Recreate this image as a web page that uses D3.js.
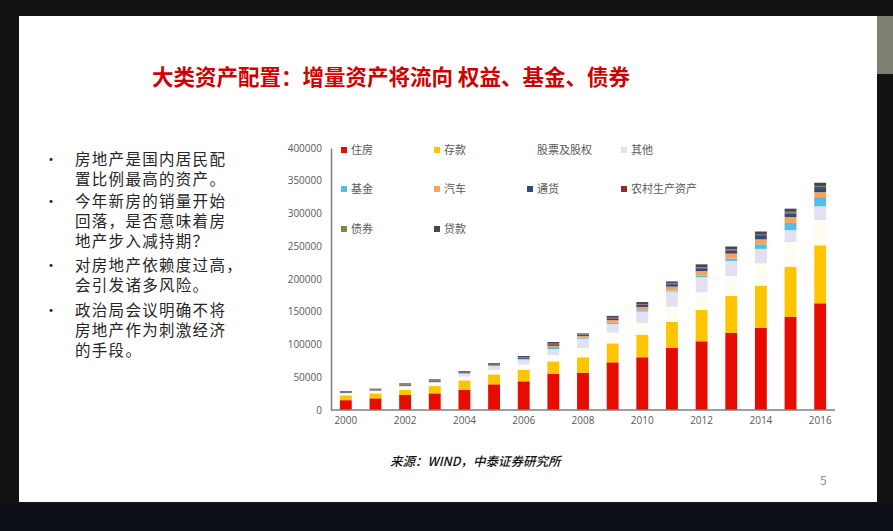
<!DOCTYPE html>
<html>
<head>
<meta charset="utf-8">
<script src="https://cdn.jsdelivr.net/npm/d3@7"></script>
<style>
  body { margin: 0; background: #111; }
  svg { display: block; font-family: "Noto Sans CJK SC", "Noto Sans", sans-serif; }
</style>
</head>
<body>
<script>
// data (stacked, bottom to top)
const years = ['2000','2001','2002','2003','2004','2005','2006','2007','2008','2009','2010','2011','2012','2013','2014','2015','2016'];
const housing  = [15000,17800,22900,25400,31000,39200,43800,55000,57000,72800,80500,95000,104900,117600,125200,142500,162900];
const deposits = [7400,7600,8100,11200,14300,15200,17800,19300,23500,29000,34500,39800,47800,56400,64600,76300,88600];
const stocks   = [3000,3300,4500,4600,5500,6600,7800,9600,14200,16200,18000,23000,27000,30600,34200,37700,38500];
const other    = [500,600,1000,1200,4500,6000,7000,9000,14200,13200,17300,23000,23000,23000,22000,18000,21000];
const funds    = [100,150,200,250,300,400,800,3500,1500,2000,2000,1500,2500,3600,7000,11000,14000];
const cars     = [300,350,400,500,600,700,900,1500,2500,4000,5000,6000,7000,7600,7600,9000,7600];
const cash     = [1000,1100,1300,1400,1400,1600,1700,2000,1500,2500,3000,3800,4200,4600,5000,5600,6200];
const rural    = [500,500,600,600,600,700,800,900,500,800,900,1000,1200,1300,1400,1600,1800];
const bonds    = [200,200,300,250,200,200,300,400,300,300,400,400,500,600,700,900,1200];
const loans    = [1000,1000,1400,1400,1100,1200,1500,2600,1700,2900,3200,2800,4300,4300,4800,4800,5200];

const seriesNames = ['住房','存款','股票及股权','其他','基金','汽车','通货','农村生产资产','债券','贷款'];
const seriesValues = [housing, deposits, stocks, other, funds, cars, cash, rural, bonds, loans];
const yTicks = [0,50000,100000,150000,200000,250000,300000,350000,400000];

const colors = ['#e60d00','#ffc400','#fffdf2','#e3e0f1','#55bde3','#f7a35c','#2f4b7c','#8e2b2b','#7b8b3d','#4a4459'];

const title = '大类资产配置：增量资产将流向 权益、基金、债券';
const bullets = [
  ['房地产是国内居民配', '置比例最高的资产。'],
  ['今年新房的销量开始', '回落，是否意味着房', '地产步入减持期？'],
  ['对房地产依赖度过高，', '会引发诸多风险。'],
  ['政治局会议明确不将', '房地产作为刺激经济', '的手段。']
];

const W = 893, H = 531;
const svg = d3.select('body').append('svg').attr('width', W).attr('height', H);

// screen / slide frame
svg.append('rect').attr('width', W).attr('height', H).attr('fill', '#121212');
svg.append('rect').attr('x', 0).attr('y', 504).attr('width', W).attr('height', 27).attr('fill', '#0d0f16');
svg.append('rect').attr('x', 19).attr('y', 16).attr('width', 858).attr('height', 486).attr('fill', '#fff');
svg.append('rect').attr('x', 877).attr('y', 16).attr('width', 16).attr('height', 58).attr('fill', '#7e8074');

// title
svg.append('text')
  .attr('x', 152).attr('y', 85)
  .attr('fill', '#d00000')
  .attr('font-size', 21.5).attr('font-weight', 700)
  .text(title);

// bullets, one text block per paragraph
const lineH = 20;
const starts = [159, 201, 265, 310];
bullets.forEach((lines, i) => {
  svg.append('text').attr('x', 44).attr('y', starts[i]).attr('dy', '0.35em')
    .attr('font-size', 14).attr('fill', '#222').text('•');
  svg.append('text').attr('y', starts[i])
    .attr('font-size', 15.5).attr('letter-spacing', 1.3).attr('fill', '#262626')
    .selectAll('tspan')
    .data(lines)
    .join('tspan')
    .attr('x', 75)
    .attr('y', (d, j) => starts[i] + j * lineH)
    .attr('dy', '0.36em')
    .text(d => d);
});

// chart
const table = years.map((yr, i) => {
  const row = {year: yr};
  seriesNames.forEach((n, k) => { row[n] = seriesValues[k][i]; });
  return row;
});
const stacked = d3.stack().keys(seriesNames)(table);

const x = d3.scaleBand().domain(years).range([331, 835]).paddingInner(0.6).paddingOuter(0.3);
const y = d3.scaleLinear().domain([0, 400000]).range([410, 148]);
const color = d3.scaleOrdinal().domain(seriesNames).range(colors);

svg.append('g').selectAll('g')
  .data(stacked)
  .join('g')
  .attr('fill', d => color(d.key))
  .selectAll('rect')
  .data(d => d)
  .join('rect')
  .attr('x', d => x(d.data.year))
  .attr('y', d => y(d[1]))
  .attr('width', x.bandwidth())
  .attr('height', d => Math.max(0, y(d[0]) - y(d[1])));

// y axis
const yAxis = svg.append('g').attr('transform', 'translate(331,0)')
  .call(d3.axisLeft(y).tickValues(yTicks).tickSize(0).tickPadding(9).tickFormat(d3.format('d')));
yAxis.select('.domain').attr('stroke', '#7f7f7f').attr('stroke-width', 1.5);
yAxis.selectAll('text').attr('fill', '#595959').attr('font-size', 10).attr('font-family', '"Open Sans", sans-serif');

// x axis
const xAxis = svg.append('g').attr('transform', 'translate(0,410)')
  .call(d3.axisBottom(x).tickValues(years.filter((d, i) => i % 2 === 0)).tickSize(0).tickPadding(7));
xAxis.select('.domain').attr('stroke', '#7f7f7f').attr('stroke-width', 1.5).attr('d', 'M331,0H835');
xAxis.selectAll('text').attr('fill', '#595959').attr('font-size', 10).attr('font-family', '"Open Sans", sans-serif');

// legend
const legCols = [341, 434, 527, 621];
const legRows = [150, 189, 229];
const legend = svg.append('g').selectAll('g')
  .data(seriesNames)
  .join('g')
  .attr('transform', (d, i) => `translate(${legCols[i % 4]},${legRows[Math.floor(i / 4)]})`);
legend.append('rect').attr('x', 0).attr('y', -3).attr('width', 6).attr('height', 6)
  .attr('fill', d => color(d));
legend.append('text').attr('x', 10).attr('y', 0).attr('dy', '0.36em')
  .attr('font-size', 11).attr('fill', '#595959').text(d => d);

// source & page number
svg.append('text').attr('x', 390).attr('y', 466)
  .attr('font-size', 12.5).attr('font-style', 'italic').attr('font-weight', 500).attr('fill', '#111')
  .text('来源：WIND，中泰证券研究所');
svg.append('text').attr('x', 820).attr('y', 485)
  .attr('font-size', 12).attr('fill', '#8c8c8c').text('5');
</script>
</body>
</html>
